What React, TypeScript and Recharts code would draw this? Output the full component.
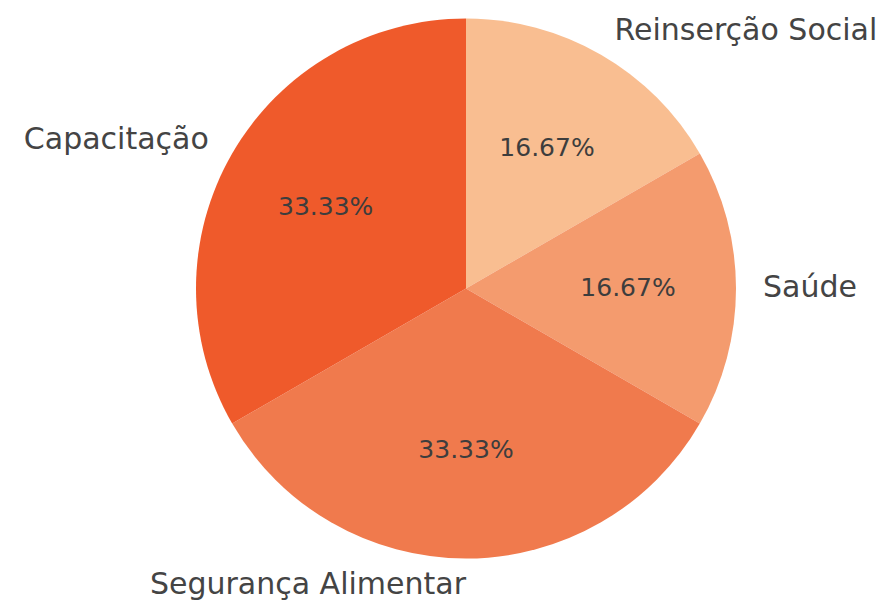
import React from "react";
import { PieChart, Pie, Cell } from "recharts";

const categories = ["Reinserção Social", "Saúde", "Segurança Alimentar", "Capacitação"];
const values = [1, 1, 2, 2];
const colors = ["#F9BE91", "#F49B6E", "#F07A4D", "#EF5A2B"];

const data = categories.map((name, i) => ({ name, value: values[i] }));

const RAD = Math.PI / 180;

const renderLabel = (props: any) => {
  const { cx, cy, midAngle, outerRadius, percent, name } = props;
  const c = Math.cos(midAngle * RAD);
  const s = Math.sin(midAngle * RAD);
  const px = cx + 0.6 * outerRadius * c;
  const py = cy - 0.6 * outerRadius * s;
  const lx = cx + 1.1 * outerRadius * c;
  const ly = cy - 1.1 * outerRadius * s;
  const anchor = c < 0.001 ? "end" : "start";
  return (
    <g>
      <text
        x={px}
        y={py - 1}
        textAnchor="middle"
        dominantBaseline="central"
        fill="#3d3d3d"
        fontFamily="DejaVu Sans"
        fontSize={25}
      >
        {`${(percent * 100).toFixed(2)}%`}
      </text>
      <text
        x={lx}
        y={ly - 2}
        textAnchor={anchor}
        dominantBaseline="central"
        fill="#444444"
        fontFamily="DejaVu Sans"
        fontSize={30}
      >
        {name}
      </text>
    </g>
  );
};

export default function App() {
  return (
    <div style={{ position: "absolute", left: 0, top: 0, width: 884, height: 601, background: "#fff" }}>
      <PieChart width={884} height={601} margin={{ top: 0, right: 0, bottom: 0, left: 0 }}>
        <Pie
          data={data}
          dataKey="value"
          nameKey="name"
          cx={466}
          cy={288.5}
          outerRadius={270}
          startAngle={90}
          endAngle={-270}
          stroke="none"
          label={renderLabel}
          labelLine={false}
          isAnimationActive={false}
        >
          {data.map((d, i) => (
            <Cell key={d.name} fill={colors[i]} />
          ))}
        </Pie>
      </PieChart>
    </div>
  );
}
